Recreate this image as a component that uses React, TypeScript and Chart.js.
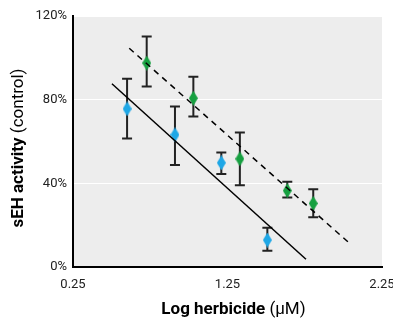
import React, { useEffect, useRef } from "react";
import { Chart, registerables } from "chart.js";

Chart.register(...registerables);

const blueX = [0.6, 0.91, 1.21, 1.508];
const blueY = [75.6, 63.2, 49.8, 12.9];
const blueHi = [90, 76.7, 54.7, 18.8];
const blueLo = [61.4, 48.8, 44.5, 7.8];

const greenX = [0.727, 1.029, 1.33, 1.637, 1.805];
const greenY = [97.5, 80.7, 51.7, 36.5, 30.4];
const greenHi = [110.2, 90.9, 64.3, 40.7, 37.2];
const greenLo = [86.3, 71.9, 39.1, 33.2, 23.8];

const blueFitX = [0.502, 1.758];
const blueFitY = [87.6, 3.7];
const greenFitX = [0.614, 2.036];
const greenFitY = [104.6, 11.6];

const xTicks = [0.25, 1.25, 2.25];
const yTicks = [0, 40, 80, 120];

const FONT = "'Liberation Sans Narrow', 'Arial Narrow', 'Roboto', sans-serif";

function diamond(color: string, w: number, h: number) {
  const c = document.createElement("canvas");
  c.width = w;
  c.height = h;
  const ctx = c.getContext("2d")!;
  ctx.fillStyle = color;
  ctx.beginPath();
  ctx.moveTo(w / 2, 0);
  ctx.lineTo(w, h / 2);
  ctx.lineTo(w / 2, h);
  ctx.lineTo(0, h / 2);
  ctx.closePath();
  ctx.fill();
  return c;
}

const errorBars = {
  id: "errorBars",
  beforeDatasetsDraw(chart: any) {
    const { ctx, scales } = chart;
    const xs = scales.x;
    const ys = scales.y;
    const groups = [
      [blueX, blueHi, blueLo],
      [greenX, greenHi, greenLo],
    ];
    ctx.save();
    ctx.strokeStyle = "#222";
    ctx.lineWidth = 2;
    for (const [gx, hi, lo] of groups) {
      gx.forEach((xv: number, i: number) => {
        const px = xs.getPixelForValue(xv);
        const pt = ys.getPixelForValue(hi[i]);
        const pb = ys.getPixelForValue(lo[i]);
        ctx.beginPath();
        ctx.moveTo(px, pt);
        ctx.lineTo(px, pb);
        ctx.moveTo(px - 5, pt);
        ctx.lineTo(px + 5, pt);
        ctx.moveTo(px - 5, pb);
        ctx.lineTo(px + 5, pb);
        ctx.stroke();
      });
    }
    ctx.restore();
  },
};

const bgAndTitles = {
  id: "bgAndTitles",
  beforeDraw(chart: any) {
    const { ctx, chartArea } = chart;
    ctx.save();
    ctx.fillStyle = "#ededed";
    ctx.fillRect(chartArea.left, chartArea.top, chartArea.right - chartArea.left, chartArea.bottom - chartArea.top);
    ctx.restore();
  },
  afterDraw(chart: any) {
    const { ctx, chartArea } = chart;
    ctx.save();
    ctx.fillStyle = "#000";
    ctx.textBaseline = "middle";
    const drawMixed = (parts: [string, string][], cx: number, cy: number) => {
      let total = 0;
      const widths = parts.map(([t, f]) => {
        ctx.font = f;
        const w = ctx.measureText(t).width;
        total += w;
        return w;
      });
      let x = cx - total / 2;
      parts.forEach(([t, f], i) => {
        ctx.font = f;
        ctx.textAlign = "left";
        ctx.fillText(t, x, cy);
        x += widths[i];
      });
    };
    const bold = `bold 17px ${FONT}`;
    const norm = `17px ${FONT}`;
    drawMixed(
      [
        ["Log herbicide ", bold],
        ["(\u00b5M)", norm],
      ],
      (chartArea.left + chartArea.right) / 2 + 6,
      310
    );
    ctx.translate(19, 148);
    ctx.rotate(-Math.PI / 2);
    drawMixed(
      [
        ["sEH activity ", bold],
        ["(control)", norm],
      ],
      0,
      0
    );
    ctx.restore();
  },
};

export default function App() {
  const ref = useRef<HTMLCanvasElement>(null);
  useEffect(() => {
    document.body.style.margin = "0";
    const blueD = diamond("#1ea7e6", 9, 15);
    const greenD = diamond("#16a040", 9, 15);
    const chart = new Chart(ref.current!, {
      type: "scatter",
      data: {
        datasets: [
          {
            type: "line",
            data: blueFitX.map((x, i) => ({ x, y: blueFitY[i] })),
            borderColor: "#000",
            borderWidth: 1.5,
            pointRadius: 0,
            fill: false,
          },
          {
            type: "line",
            data: greenFitX.map((x, i) => ({ x, y: greenFitY[i] })),
            borderColor: "#000",
            borderWidth: 1.5,
            borderDash: [6, 5],
            pointRadius: 0,
            fill: false,
          },
          {
            data: blueX.map((x, i) => ({ x, y: blueY[i] })),
            pointStyle: blueD as any,
            backgroundColor: "#1ea7e6",
          },
          {
            data: greenX.map((x, i) => ({ x, y: greenY[i] })),
            pointStyle: greenD as any,
            backgroundColor: "#16a040",
          },
        ],
      },
      options: {
        animation: false,
        responsive: false,
        layout: { padding: { top: 16, right: 11, left: 0, bottom: 0 } },
        plugins: { legend: { display: false }, tooltip: { enabled: false } },
        scales: {
          x: {
            type: "linear",
            min: 0.25,
            max: 2.25,
            afterBuildTicks: (s: any) => {
              s.ticks = xTicks.map((v) => ({ value: v }));
            },
            afterFit: (s: any) => {
              s.height = 53;
              s.paddingRight = 0;
              s.paddingLeft = 0;
            },
            ticks: {
              color: "#222",
              font: { family: FONT, size: 13 },
              padding: 2,
              callback: (v: any) => Number(v).toFixed(2),
            },
            grid: { display: false },
            border: { display: true, color: "#000", width: 2 },
          },
          y: {
            min: 0,
            max: 120,
            afterBuildTicks: (s: any) => {
              s.ticks = yTicks.map((v) => ({ value: v }));
            },
            afterFit: (s: any) => {
              s.width = 73;
              s.paddingTop = 0;
              s.paddingBottom = 0;
            },
            ticks: {
              color: "#222",
              font: { family: FONT, size: 13 },
              padding: 6,
              callback: (v: any) => v + "%",
            },
            grid: { color: "#ffffff", lineWidth: 1, drawTicks: false },
            border: { display: true, color: "#000", width: 2 },
          },
        },
      },
      plugins: [bgAndTitles, errorBars],
    });
    return () => chart.destroy();
  }, []);
  return <canvas ref={ref} width={393} height={320} style={{ display: "block" }} />;
}
